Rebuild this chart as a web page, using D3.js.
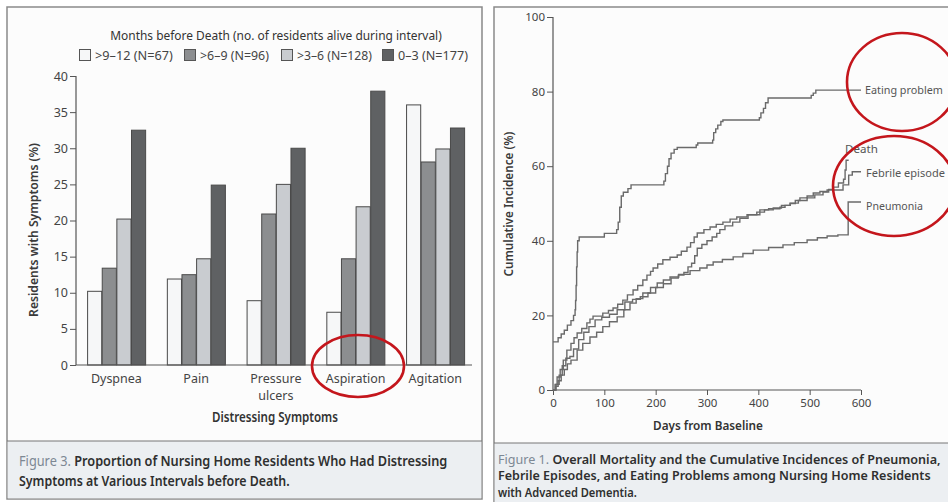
<!DOCTYPE html>
<html>
<head>
<meta charset="utf-8">
<script src="https://cdn.jsdelivr.net/npm/d3@7"></script>
<style>
  body { margin: 0; background: #fff; }
  svg { display: block; font-family: "Noto Sans", sans-serif; }
</style>
</head>
<body>
<svg id="fig" width="948" height="502"></svg>
<script>
// ---- Figure 3 (left): distressing symptoms before death ----
const symptoms = ["Dyspnea", "Pain", "Pressure ulcers", "Aspiration", "Agitation"];
const intervals = [">9–12 (N=67)", ">6–9 (N=96)", ">3–6 (N=128)", "0–3 (N=177)"];
const before9to12 = [10.2, 11.9, 8.9, 7.3, 36.0];
const before6to9 = [13.4, 12.5, 20.9, 14.7, 28.1];
const before3to6 = [20.2, 14.7, 25.0, 21.9, 29.9];
const before0to3 = [32.5, 24.9, 30.0, 37.9, 32.8];
const symptomTicks = [0, 5, 10, 15, 20, 25, 30, 35, 40];

// ---- Figure 1 (right): cumulative incidence, [day, percent] steps ----
const dayTicks = [0, 100, 200, 300, 400, 500, 600];
const incidenceTicks = [0, 20, 40, 60, 80, 100];
const eatingProblem = [[0,12.9],[10,14],[16,15],[22,16],[28,17.4],[35,18.6],[40,20],[43,21.5],[44,24],[45,28],[46,33],[47,37],[48,40],[51,41],[100,42],[124,43],[127,45],[130,49],[133,52],[137,53],[146,54],[152,55],[216,56],[219,58],[223,60],[226,62],[230,63.5],[236,64.5],[242,65],[279,65.7],[282,66.2],[311,67],[313,69],[317,70],[321,71],[327,72],[331,72.4],[402,73],[405,74.3],[410,75.5],[414,77],[419,78.3],[503,79],[507,79.6],[512,80.4],[600,80.4]];
const death = [[0,0],[4,1.5],[8,3.5],[14,5.5],[20,8],[27,10.7],[35,12.5],[41,14],[47,15.3],[56,16.5],[66,18],[72,19],[78,19.8],[97,20.6],[108,21.3],[117,22],[126,23],[136,24.1],[145,25.5],[156,26.8],[165,28],[175,29.5],[183,30.8],[190,31.8],[195,32.7],[204,33.8],[214,34.9],[228,35.6],[242,36.2],[250,37.2],[261,38.3],[268,39.5],[275,41],[281,42.1],[294,43],[306,43.7],[318,44.4],[331,45],[345,45.8],[358,46.4],[378,47],[397,47.7],[412,48.3],[429,48.8],[445,49.5],[462,50.1],[478,50.8],[495,51.5],[510,52.3],[526,53.1],[537,53.8],[545,54.4],[556,55.5],[566,56.5],[569,59],[571,61.6],[576,61.6]];
const febrileEpisode = [[0,0],[6,1.5],[12,4],[18,6.5],[25,8.5],[33,9],[40,11],[50,13.5],[60,15.5],[70,17],[82,18.8],[95,19.5],[110,20.3],[125,21.5],[140,23.6],[155,24.3],[170,25],[185,26],[200,27.5],[215,28.5],[230,30],[244,30.8],[255,31.5],[263,33],[270,34],[276,36],[281,38],[290,39],[300,40],[310,41],[319,42],[325,43],[335,44],[350,45],[364,46],[380,47],[403,48.3],[420,48.6],[442,49],[452,49.5],[462,50],[472,50.8],[481,51.5],[495,52],[507,52.8],[520,53.2],[534,53.6],[565,55],[576,57.6],[583,58.5],[600,58.5]];
const pneumonia = [[0,0],[5,1],[10,2.5],[16,4],[22,5.5],[28,7],[35,8],[47,10.7],[58,12.5],[72,14.2],[85,15.5],[97,17],[110,18.3],[125,19.6],[138,21.5],[150,23.3],[162,24.5],[175,26],[190,27.5],[203,28.7],[215,29.5],[228,30.3],[245,31],[267,32],[286,32.7],[300,33.5],[312,34.3],[330,35],[351,35.7],[370,36.6],[390,37.5],[420,38.2],[448,38.9],[470,39.5],[495,40.2],[515,40.8],[534,41.3],[555,41.6],[575,50.4],[600,50.4]];

const svg = d3.select("#fig");

// write a line of text, squeezed sideways to the width it has in the scan
function txt(g, x, y, s, size, w, opt) {
  opt = opt || {};
  const t = g.append("text")
    .attr("x", 0).attr("y", 0)
    .attr("font-size", size)
    .attr("fill", opt.fill || "#3a3a3a")
    .attr("font-weight", opt.weight || 400)
    .attr("text-anchor", opt.anchor || "start")
    .attr("dominant-baseline", "central");
  if (opt.prefix) {
    t.append("tspan").attr("fill", "#7d8894").attr("font-weight", 400).text(opt.prefix);
  }
  t.append("tspan").text(s);
  let sx = 1;
  if (w) sx = w / t.node().getComputedTextLength();
  t.attr("transform", "translate(" + x + "," + y + ")" + (opt.rotate ? " rotate(-90)" : "") + " scale(" + sx + ",1)");
  return t;
}

// ---------------- left panel ----------------
const left = svg.append("g");
left.append("rect").attr("x", 7).attr("y", 7).attr("width", 475).attr("height", 492)
  .attr("fill", "#fcfcfc").attr("stroke", "#8a8a8a").attr("stroke-width", 1.5);
left.append("rect").attr("x", 7.75).attr("y", 441).attr("width", 473.5).attr("height", 57.25)
  .attr("fill", "#eceff2");
left.append("line").attr("x1", 7).attr("x2", 482).attr("y1", 441).attr("y2", 441)
  .attr("stroke", "#777").attr("stroke-width", 1.2);

const series = [before9to12, before6to9, before3to6, before0to3];
const fills = ["#f6f7f8", "#8c8e90", "#c9ccd0", "#5f6163"];

const x0 = d3.scaleBand().domain(symptoms).range([76, 472]).paddingInner(0.266).paddingOuter(0.116).align(0.6);
const x1 = d3.scaleBand().domain(intervals).range([0, x0.bandwidth()]);
const yL = d3.scaleLinear().domain([0, 40]).range([365, 76]);

// legend
txt(left, 276, 35, "Months before Death (no. of residents alive during interval)", 13, 332, {anchor: "middle", fill: "#333"});
const legendX = [79, 184, 281, 382];
const legendW = [78, 69, 75, 70];
intervals.forEach(function(d, i) {
  left.append("rect").attr("x", legendX[i] + 0.5).attr("y", 49.5).attr("width", 11).attr("height", 11)
    .attr("fill", fills[i]).attr("stroke", "#555").attr("stroke-width", 1);
  txt(left, legendX[i] + 16, 55, d, 12.5, legendW[i], {fill: "#444"});
});

// bars
const groups = left.selectAll("g.sym").data(symptoms).enter().append("g")
  .attr("transform", function(d) { return "translate(" + x0(d) + ",0)"; });
groups.selectAll("rect")
  .data(function(d, j) { return intervals.map(function(k, i) { return {k: k, i: i, v: series[i][j]}; }); })
  .enter().append("rect")
  .attr("x", function(d) { return x1(d.k) + 0.5; })
  .attr("y", function(d) { return yL(d.v); })
  .attr("width", x1.bandwidth() - 0.5)
  .attr("height", function(d) { return yL(0) - yL(d.v); })
  .attr("fill", function(d) { return fills[d.i]; })
  .attr("stroke", "#4a4a4a").attr("stroke-width", 1);

// axes
const yAxisL = left.append("g").attr("transform", "translate(76,0)")
  .call(d3.axisLeft(yL).tickValues(symptomTicks).tickSize(6).tickPadding(2));
yAxisL.select(".domain").attr("d", "M0," + yL(40) + "V" + yL(0));
yAxisL.selectAll("line").attr("stroke", "#555");
yAxisL.select(".domain").attr("stroke", "#555").attr("stroke-width", 1.2);
yAxisL.selectAll("text").attr("font-size", 12.5).attr("fill", "#444").attr("font-family", "Noto Sans");

left.append("line").attr("x1", 76).attr("x2", 472).attr("y1", yL(0)).attr("y2", yL(0))
  .attr("stroke", "#555").attr("stroke-width", 1.2);

symptoms.forEach(function(s) {
  const cx = x0(s) + x0.bandwidth() / 2;
  s.split(" ").forEach(function(w, k) {
    txt(left, cx, 378 + k * 17, w, 12.5, null, {anchor: "middle", fill: "#444"});
  });
});
txt(left, 275, 417, "Distressing Symptoms", 13.5, 126, {anchor: "middle", fill: "#333", weight: 600});
txt(left, 33, 230, "Residents with Symptoms (%)", 13, 174, {anchor: "middle", fill: "#3a3a3a", weight: 600, rotate: true});

// caption
txt(left, 19, 461, "Proportion of Nursing Home Residents Who Had Distressing", 14, 429, {fill: "#2f2f2f", weight: 600, prefix: "Figure 3. "});
txt(left, 19, 481, "Symptoms at Various Intervals before Death.", 14, 271, {fill: "#2f2f2f", weight: 600});

// ---------------- right panel ----------------
const right = svg.append("g");
right.append("rect").attr("x", 494).attr("y", 7).attr("width", 470).attr("height", 500)
  .attr("fill", "#fcfcfc").attr("stroke", "#8a8a8a").attr("stroke-width", 1.5);
right.append("rect").attr("x", 494.75).attr("y", 443).attr("width", 460).attr("height", 60)
  .attr("fill", "#eceff2");
right.append("line").attr("x1", 494).attr("x2", 948).attr("y1", 443).attr("y2", 443)
  .attr("stroke", "#777").attr("stroke-width", 1.2);

const xR = d3.scaleLinear().domain([0, 600]).range([553, 861]);
const yR = d3.scaleLinear().domain([0, 100]).range([390, 17]);

const yAxisR = right.append("g").attr("transform", "translate(553,0)")
  .call(d3.axisLeft(yR).tickValues(incidenceTicks).tickSize(6).tickPadding(2));
const xAxisR = right.append("g").attr("transform", "translate(0,390)")
  .call(d3.axisBottom(xR).tickValues(dayTicks).tickSize(5).tickPadding(4));
[yAxisR, xAxisR].forEach(function(a) {
  a.select(".domain").attr("stroke", "#555").attr("stroke-width", 1.2);
  a.selectAll("line").attr("stroke", "#555");
  a.selectAll("text").attr("font-size", 11.5).attr("fill", "#444").attr("font-family", "Noto Sans");
});
yAxisR.select(".domain").attr("d", "M0," + yR(100) + "V" + yR(0));
xAxisR.select(".domain").attr("d", "M" + xR(0) + ",0H" + xR(600));

const step = d3.line()
  .x(function(d) { return xR(d[0]); })
  .y(function(d) { return yR(d[1]); })
  .curve(d3.curveStepAfter);
[eatingProblem, death, febrileEpisode, pneumonia].forEach(function(s) {
  right.append("path").attr("d", step(s))
    .attr("fill", "none").attr("stroke", "#6a6a6a").attr("stroke-width", 1.4);
});

txt(right, 865, 89, "Eating problem", 11, 78, {fill: "#555"});
txt(right, 845, 148, "Death", 11, 33, {fill: "#555"});
txt(right, 866, 172, "Febrile episode", 11, 79, {fill: "#555"});
txt(right, 866, 205, "Pneumonia", 11, 57, {fill: "#555"});

txt(right, 708, 425, "Days from Baseline", 12, 110, {anchor: "middle", fill: "#333", weight: 600});
txt(right, 508, 204, "Cumulative Incidence (%)", 12, 145, {anchor: "middle", fill: "#3a3a3a", weight: 600, rotate: true});

txt(right, 498, 459, "Overall Mortality and the Cumulative Incidences of Pneumonia,", 12, 443, {fill: "#2f2f2f", weight: 600, prefix: "Figure 1. "});
txt(right, 498, 475.5, "Febrile Episodes, and Eating Problems among Nursing Home Residents", 12, 433, {fill: "#2f2f2f", weight: 600});
txt(right, 498, 492, "with Advanced Dementia.", 12, 139, {fill: "#2f2f2f", weight: 600});

// ---------------- red annotation circles ----------------
const marks = svg.append("g").attr("fill", "none").attr("stroke", "#c4161c").attr("stroke-width", 2.6);
marks.append("ellipse").attr("cx", 358).attr("cy", 366).attr("rx", 46).attr("ry", 31);
marks.append("ellipse").attr("cx", 902).attr("cy", 82).attr("rx", 55).attr("ry", 49);
marks.append("ellipse").attr("cx", 894).attr("cy", 186).attr("rx", 61).attr("ry", 50);
</script>
</body>
</html>
